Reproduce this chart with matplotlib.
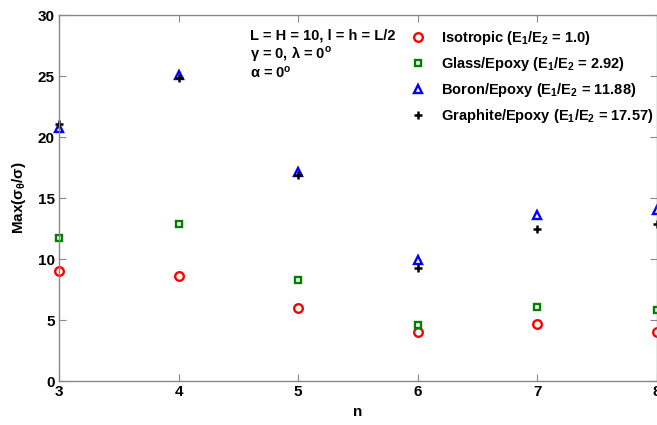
import numpy as np
import matplotlib
matplotlib.use('Agg')
import matplotlib.pyplot as plt

plt.rcParams['font.family'] = ['Liberation Sans', 'DejaVu Sans']
plt.rcParams['font.weight'] = 'bold'
plt.rcParams['mathtext.default'] = 'regular'

# Número de lados n e máximo de sigma_theta/sigma para cada material
n = [3, 4, 5, 6, 7, 8]
isotropic = [9.0, 8.6, 6.0, 4.0, 4.7, 4.0]
glass_epoxy = [11.7, 12.9, 8.3, 4.6, 6.1, 5.8]
boron_epoxy = [20.7, 25.1, 17.1, 9.9, 13.6, 14.0]
graphite_epoxy = [21.1, 24.8, 16.9, 9.3, 12.5, 12.9]

labels = ['Isotropic ($E_1/E_2$ = 1.0)',
          'Glass/Epoxy ($E_1/E_2$ = 2.92)',
          'Boron/Epoxy ($E_1/E_2$ = 11.88)',
          'Graphite/Epoxy ($E_1/E_2$ = 17.57)']

fig = plt.figure(figsize=(6.57, 4.25), dpi=100)
ax = fig.add_axes([0.0898, 0.1035, 0.9102, 0.8612])

ax.plot(n, isotropic, 'o', color='#ff0000', mfc='none', ms=6.2, mew=1.7,
        clip_on=False, label=labels[0])
ax.plot(n, glass_epoxy, 's', color='#008000', mfc='none', ms=4.5, mew=1.7,
        clip_on=False, label=labels[1])
ax.plot(n, boron_epoxy, '^', color='#0000ff', mfc='none', ms=6, mew=1.7,
        clip_on=False, label=labels[2])
ax.plot(n, graphite_epoxy, '+', color='black', ms=6, mew=1.8,
        clip_on=False, label=labels[3])

ax.set_xlim(3, 8)
ax.set_ylim(0, 30)
ax.set_xticks(n)
ax.set_yticks(np.arange(0, 31, 5))
ax.tick_params(direction='in', top=True, right=True, length=5,
               color='#888888', labelsize=11, pad=3)
for s in ax.spines.values():
    s.set_color('#888888')
    s.set_linewidth(1)

ax.set_xlabel('n', fontsize=11, fontweight='bold', labelpad=4)
ax.set_ylabel(r'Max($\sigma_\theta/\sigma$)', fontsize=11, fontweight='bold', labelpad=7)

ax.text(0.319, 0.945, 'L = H = 10, l = h = L/2', transform=ax.transAxes,
        fontsize=10.5, fontweight='bold', va='center')
ax.text(0.319, 0.894, 'γ = 0, λ = 0$^o$', transform=ax.transAxes,
        fontsize=10.5, fontweight='bold', va='center')
ax.text(0.319, 0.842, 'α = 0$^o$', transform=ax.transAxes,
        fontsize=10.5, fontweight='bold', va='center')

ax.legend(loc='upper left', bbox_to_anchor=(0.588, 0.962), frameon=False,
          numpoints=1, handlelength=1.0, handletextpad=1.07, borderpad=0,
          borderaxespad=0, labelspacing=0.55, fontsize=10.5)

fig.savefig('out.png', dpi=100)
